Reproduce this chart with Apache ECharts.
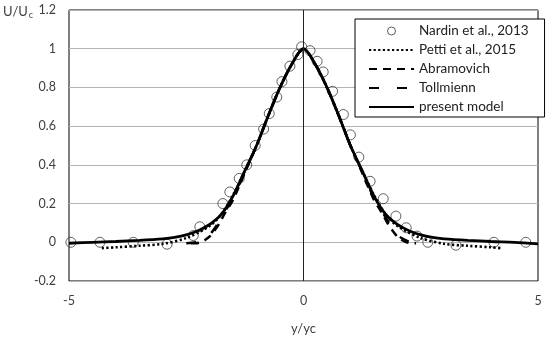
<!DOCTYPE html>
<html>
<head>
<meta charset="utf-8">
<script src="https://cdn.jsdelivr.net/npm/echarts@6/dist/echarts.min.js"></script>
<style>html,body{margin:0;padding:0;background:#fff}#c{width:550px;height:340px}</style>
</head>
<body>
<div id="c"></div>
<script>
// ---- data ----
const seriesNames = ['Nardin et al., 2013', 'Petti et al., 2015', 'Abramovich', 'Tollmienn', 'present model'];

const nardinX = [-4.96, -4.34, -3.63, -2.91, -2.35, -2.21, -1.72, -1.57, -1.37, -1.21, -1.03, -0.85, -0.73, -0.57, -0.46, -0.29, -0.12, -0.04, 0.14, 0.29, 0.42, 0.62, 0.85, 1.0, 1.18, 1.42, 1.70, 1.97, 2.19, 2.42, 2.65, 3.25, 4.06, 4.74];
const nardinY = [0.0, 0.0, 0.0, -0.01, 0.035, 0.08, 0.2, 0.26, 0.33, 0.40, 0.50, 0.585, 0.665, 0.75, 0.83, 0.91, 0.97, 1.01, 0.99, 0.935, 0.88, 0.78, 0.66, 0.555, 0.44, 0.315, 0.225, 0.135, 0.075, 0.032, 0.0, -0.015, 0.0, 0.0];

const pettiX = [-4.3, -4.0, -3.5, -3.0, -2.5, -2.0, -1.75, -1.5, -1.25, -1.0, -0.75, -0.5, -0.25, 0, 0.25, 0.5, 0.75, 1.0, 1.25, 1.5, 1.75, 2.0, 2.5, 3.0, 3.5, 4.0, 4.2];
const pettiY = [-0.03, -0.026, -0.018, -0.008, 0.022, 0.085, 0.145, 0.245, 0.37, 0.5, 0.655, 0.80, 0.92, 1.0, 0.92, 0.80, 0.655, 0.5, 0.37, 0.245, 0.145, 0.085, 0.022, -0.008, -0.018, -0.026, -0.03];

const abramX = [-2.4, -2.3, -2.2, -2.1, -2.0, -1.9, -1.8, -1.7, -1.6, -1.5, -1.25, -1.0, -0.75, -0.5, -0.25, 0, 0.25, 0.5, 0.75, 1.0, 1.25, 1.5, 1.6, 1.7, 1.8, 1.9, 2.0, 2.1, 2.2, 2.3, 2.4];
const abramY = [-0.005, -0.005, 0.0, 0.012, 0.03, 0.06, 0.095, 0.14, 0.18, 0.22, 0.36, 0.5, 0.655, 0.80, 0.92, 1.0, 0.92, 0.80, 0.655, 0.5, 0.36, 0.22, 0.18, 0.14, 0.095, 0.06, 0.03, 0.012, 0.0, -0.005, -0.005];

const tollX = [-2.5, -2.3, -2.2, -2.1, -2.0, -1.9, -1.7, -1.5, -1.25, -1.0, -0.75, -0.5, -0.25, 0, 0.25, 0.5, 0.75, 1.0, 1.25, 1.5, 1.7, 1.9, 2.0, 2.1, 2.2, 2.3, 2.5];
const tollY = [-0.005, 0.0, 0.008, 0.02, 0.04, 0.07, 0.15, 0.23, 0.365, 0.5, 0.655, 0.80, 0.92, 1.0, 0.92, 0.80, 0.655, 0.5, 0.365, 0.23, 0.15, 0.07, 0.04, 0.02, 0.008, 0.0, -0.005];

const modelX = [-5, -4.5, -4, -3.5, -3, -2.75, -2.5, -2.25, -2, -1.75, -1.5, -1.25, -1, -0.75, -0.5, -0.25, 0, 0.25, 0.5, 0.75, 1, 1.25, 1.5, 1.75, 2, 2.25, 2.5, 2.75, 3, 3.5, 4, 4.5, 5];
const modelY = [-0.005, 0.0, 0.004, 0.01, 0.018, 0.025, 0.038, 0.06, 0.092, 0.145, 0.24, 0.37, 0.5, 0.655, 0.80, 0.92, 1.0, 0.92, 0.80, 0.655, 0.5, 0.37, 0.24, 0.145, 0.092, 0.06, 0.038, 0.025, 0.018, 0.01, 0.004, 0.0, -0.008];

const xTicks = [-5, 0, 5];
const yTicks = [-0.2, 0, 0.2, 0.4, 0.6, 0.8, 1, 1.2];

const zip = (xs, ys) => xs.map((x, i) => [x, ys[i]]);

const FONT = 'Lato';
const chart = echarts.init(document.getElementById('c'), null, {renderer: 'canvas'});
chart.setOption({
  animation: false,
  backgroundColor: '#fff',
  textStyle: {fontFamily: FONT},
  graphic: [{
    type: 'text', left: 3, top: 5, silent: true,
    style: {
      text: '{a|U/U}{b|c}',
      rich: {
        a: {fontFamily: FONT, fontSize: 13, fill: '#404040'},
        b: {fontFamily: FONT, fontSize: 9, fill: '#404040', padding: [8, 0, 0, 1]}
      }
    }
  }],
  grid: {left: 69, right: 12, top: 10, bottom: 54, show: true, borderColor: '#000', borderWidth: 1, containLabel: false},
  legend: {
    orient: 'vertical',
    left: 355, top: 19,
    padding: [5, 16, 3, 13],
    itemGap: 5,
    itemWidth: 45, itemHeight: 8,
    borderColor: '#000', borderWidth: 1,
    backgroundColor: '#fff',
    textStyle: {fontFamily: FONT, fontSize: 13.5, color: '#222'},
    data: [
      {name: seriesNames[0], itemStyle: {borderWidth: 1}},
      {name: seriesNames[1], itemStyle: {opacity: 0}},
      {name: seriesNames[2], itemStyle: {opacity: 0}},
      {name: seriesNames[3], itemStyle: {opacity: 0}},
      {name: seriesNames[4], itemStyle: {opacity: 0}}
    ]
  },
  xAxis: {
    type: 'value', min: xTicks[0], max: xTicks[xTicks.length - 1], interval: 5,
    name: 'y/yc', nameLocation: 'middle', nameGap: 41,
    nameTextStyle: {fontFamily: FONT, fontSize: 13, color: '#404040'},
    axisLine: {show: false}, axisTick: {show: false}, splitLine: {show: false},
    axisLabel: {fontFamily: FONT, fontSize: 12.5, color: '#404040', margin: 13}
  },
  yAxis: {
    type: 'value', min: yTicks[0], max: yTicks[yTicks.length - 1], interval: 0.2,
    axisLine: {show: false}, axisTick: {show: false},
    splitLine: {show: true, lineStyle: {color: '#b3b3b3', width: 1}},
    axisLabel: {fontFamily: FONT, fontSize: 12.5, color: '#404040', margin: 13,
      formatter: v => String(Math.round(v * 10) / 10)}
  },
  series: [
    {
      name: seriesNames[0], type: 'scatter', data: zip(nardinX, nardinY),
      symbol: 'circle', symbolSize: 10,
      itemStyle: {color: 'rgba(0,0,0,0)', borderColor: '#3a3a3a', borderWidth: 1},
      z: 2
    },
    {
      name: seriesNames[1], type: 'line', data: zip(pettiX, pettiY), smooth: 0.3,
      symbol: 'none', itemStyle: {color: '#000'},
      lineStyle: {color: '#000', width: 2.6, type: [2.2, 2.4]}, z: 3
    },
    {
      name: seriesNames[2], type: 'line', data: zip(abramX, abramY), smooth: 0.3,
      symbol: 'none', itemStyle: {color: '#000'},
      lineStyle: {color: '#000', width: 2.5, type: [8, 6]}, z: 3
    },
    {
      name: seriesNames[3], type: 'line', data: zip(tollX, tollY), smooth: 0.3,
      symbol: 'none', itemStyle: {color: '#000'},
      lineStyle: {color: '#000', width: 2.5, type: [10, 18]}, z: 3
    },
    {
      name: seriesNames[4], type: 'line', data: zip(modelX, modelY), smooth: 0.3,
      symbol: 'none', itemStyle: {color: '#000'},
      lineStyle: {color: '#000', width: 2.8}, z: 4,
      markLine: {
        silent: true, symbol: 'none', label: {show: false},
        lineStyle: {color: '#222', width: 1, type: 'solid'},
        data: [{xAxis: 0}]
      }
    }
  ]
});
</script>
</body>
</html>
